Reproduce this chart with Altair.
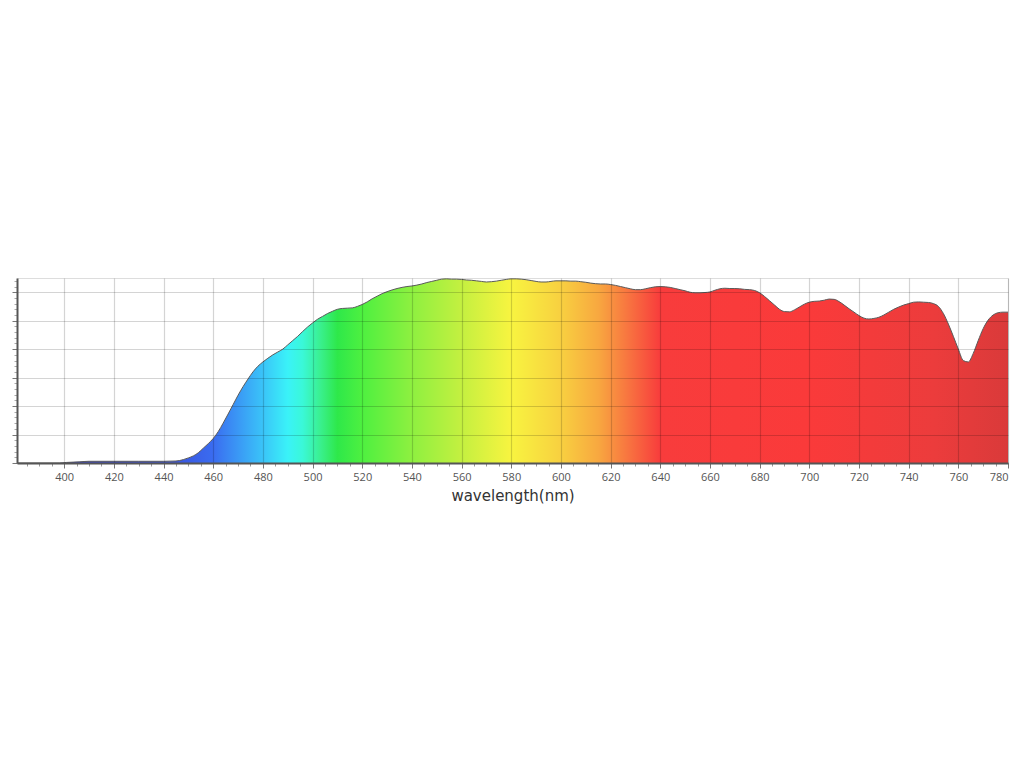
import altair as alt
import pandas as pd

# Spectrum values (wavelength in nm, relative intensity in grid units)
wavelength = [381, 398, 401, 406, 410, 420, 430, 440, 445, 448, 450, 452, 454, 456, 458,
              460, 462, 464, 466, 468, 470, 472, 474, 476, 478, 480, 482, 484, 486, 488,
              490, 492, 494, 496, 498, 500, 502, 504, 506, 508, 510, 512, 514, 516, 518,
              520, 522, 524, 526, 528, 530, 532, 534, 536, 538, 540, 542, 544, 546, 548,
              550, 552, 554, 556, 558, 560, 562, 564, 566, 568, 570, 572, 574, 576, 578,
              580, 582, 584, 586, 588, 590, 592, 594, 596, 598, 600, 602, 604, 606, 608,
              610, 612, 614, 616, 618, 620, 622, 624, 626, 628, 630, 632, 634, 636, 638,
              640, 642, 644, 646, 648, 650, 652, 654, 656, 658, 660, 662, 664, 666, 668,
              670, 672, 674, 676, 678, 680, 682, 684, 686, 688, 690, 692, 694, 696, 698,
              700, 702, 704, 706, 708, 710, 712, 714, 716, 718, 720, 722, 724, 726, 728,
              730, 732, 734, 736, 738, 740, 742, 744, 746, 748, 750, 752, 754, 756, 758,
              760, 762, 764, 766, 768, 770, 772, 774, 776, 778, 780]
intensity = [0, 0, 0.02, 0.04, 0.06, 0.06, 0.06, 0.06, 0.07, 0.12, 0.18, 0.25, 0.36, 0.52, 0.68,
             0.86, 1.1, 1.4, 1.72, 2.05, 2.38, 2.68, 2.95, 3.2, 3.4, 3.55, 3.68, 3.8, 3.9, 4.0,
             4.15, 4.3, 4.45, 4.62, 4.78, 4.92, 5.05, 5.15, 5.25, 5.33, 5.4, 5.43, 5.44, 5.45, 5.5,
             5.57, 5.66, 5.77, 5.86, 5.95, 6.02, 6.08, 6.13, 6.17, 6.2, 6.22, 6.25, 6.29, 6.34, 6.38,
             6.42, 6.46, 6.47, 6.46, 6.46, 6.45, 6.43, 6.42, 6.4, 6.38, 6.36, 6.37, 6.39, 6.42, 6.45,
             6.47, 6.47, 6.46, 6.44, 6.41, 6.38, 6.36, 6.36, 6.38, 6.4, 6.4, 6.4, 6.39, 6.39, 6.37,
             6.35, 6.32, 6.3, 6.29, 6.29, 6.27, 6.24, 6.2, 6.16, 6.12, 6.09, 6.09, 6.12, 6.16, 6.19,
             6.2, 6.19, 6.17, 6.13, 6.09, 6.05, 6.0, 5.98, 5.98, 5.99, 6.01, 6.07, 6.12, 6.14, 6.13,
             6.13, 6.12, 6.1, 6.09, 6.06, 5.98, 5.85, 5.7, 5.55, 5.4, 5.32, 5.31, 5.38, 5.48, 5.58,
             5.65, 5.68, 5.69, 5.72, 5.76, 5.75, 5.67, 5.55, 5.42, 5.3, 5.18, 5.09, 5.06, 5.08, 5.12,
             5.2, 5.3, 5.4, 5.48, 5.55, 5.6, 5.65, 5.66, 5.65, 5.64, 5.6, 5.5, 5.25, 4.88, 4.45,
             4.0, 3.6, 3.55, 3.85, 4.3, 4.72, 5.02, 5.2, 5.28, 5.3, 5.3]

# Spectral colour stops (wavelength -> colour)
stop_wl = [381, 445, 460, 470, 480, 490, 496, 503, 510, 520, 540, 560, 580, 600, 615, 628, 640, 700, 750, 780]
stop_col = ["#3a3ab8", "#3a55e0", "#3a6cf0", "#3a98f5", "#3ac4f8", "#3af2f8", "#3af8d8", "#3af090",
            "#2ee84a", "#4ef040", "#8ef040", "#c4f040", "#f8f440", "#f8d040", "#f8a840", "#f87040",
            "#f83c3c", "#fa3a3a", "#ec3c3c", "#da3a3a"]

major_x = list(range(400, 781, 20))
minor_x = list(range(385, 781, 5))
major_y = [0, 1, 2, 3, 4, 5, 6]
minor_y = [round(i * 0.2, 2) for i in range(0, 33)]

df = pd.DataFrame({"wl": wavelength, "v": intensity})

xmin, xmax = 381, 780
stops = [alt.GradientStop(offset=(w - xmin) / (xmax - xmin), color=c) for w, c in zip(stop_wl, stop_col)]
grad = alt.Gradient(gradient="linear", stops=stops, x1=0, x2=1, y1=0, y2=0)

xscale = alt.Scale(domain=[xmin, xmax], nice=False, zero=False)
yscale = alt.Scale(domain=[0, 6.5], nice=False)

area = alt.Chart(df).mark_area(color=grad, interpolate="monotone").encode(
    x=alt.X("wl:Q", scale=xscale,
            axis=alt.Axis(values=major_x, grid=True, gridColor="#000000", gridOpacity=0.17,
                          gridWidth=1.2, tickSize=5, tickColor="#777", domainColor="#555",
                          domainWidth=2, labelFont="Open Sans", labelFontSize=11,
                          labelColor="#555", labelPadding=3, title="wavelength(nm)",
                          titleFont="DejaVu Sans", titleFontSize=15, titleFontWeight="normal",
                          titleColor="#333", titlePadding=6, zindex=1)),
    y=alt.Y("v:Q", scale=yscale,
            axis=alt.Axis(values=major_y, grid=True, gridColor="#000000", gridOpacity=0.17,
                          gridWidth=1.2, tickSize=5, tickColor="#777", domainColor="#555",
                          domainWidth=2, labels=False, title=None, zindex=1)),
)

line = alt.Chart(df).mark_line(color="#5a5a5a", strokeWidth=1, interpolate="monotone").encode(
    x=alt.X("wl:Q", scale=xscale,
            axis=alt.Axis(values=minor_x, orient="bottom", grid=False, tickSize=3, tickColor="#999",
                          domain=False, labels=False, title=None)),
    y=alt.Y("v:Q", scale=yscale,
            axis=alt.Axis(values=minor_y, orient="left", grid=False, tickSize=3, tickColor="#aaa",
                          domain=False, labels=False, title=None)),
)

chart = alt.layer(area, line).resolve_axis(x="independent", y="independent").properties(
    width=991, height=185,
    autosize=alt.AutoSizeParams(type="none"),
    padding={"left": 9, "top": 270, "right": 8, "bottom": 80},
).configure_view(stroke="#999", strokeWidth=1).configure(background="white")

chart.save("out.html", embed_options={"renderer": "svg", "actions": False})
